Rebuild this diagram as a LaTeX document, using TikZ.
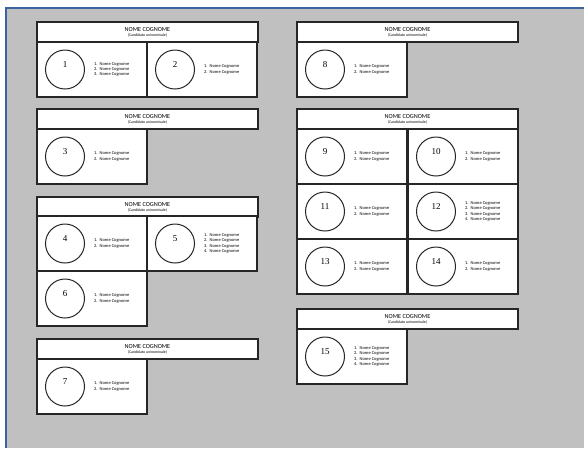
\documentclass[tikz,border=0pt]{standalone}
\usepackage{fontspec}
\setmainfont{Carlito}
\newfontfamily\numfont{Liberation Serif}
\definecolor{panel}{HTML}{C0C0C0}
\definecolor{frameblue}{HTML}{3A64A0}
\definecolor{boxline}{HTML}{262626}
\tikzset{
  cellline/.style={draw=boxline, line width=1.2pt, fill=white},
  circ/.style={draw=boxline, line width=1pt},
  numtxt/.style={font=\numfont\fontsize{9}{10}\selectfont, inner sep=0pt},
  listtxt/.style={font=\fontsize{4.5}{5.4}\selectfont, align=left, inner sep=0pt, anchor=west},
  headtxt/.style={font=\fontsize{6.2}{7}\selectfont, inner sep=0pt},
  subtxt/.style={font=\fontsize{3.9}{4.5}\selectfont, inner sep=0pt}
}
\newcommand\itm[1]{\makebox[5.5pt][l]{#1.}Nome Cognome}
\newcommand\lstTwo{\itm{1}\\\itm{2}}
\newcommand\lstThree{\itm{1}\\\itm{2}\\\itm{3}}
\newcommand\lstFour{\itm{1}\\\itm{2}\\\itm{3}\\\itm{4}}
% name, x, y, number, list
\newcommand\cellbox[5]{%
  \draw[cellline] (#2,#3) rectangle ++(110,55);
  \draw[circ] (#2+28,#3+27.5) circle (19.5);
  \node[numtxt] (n#1) at (#2+28,#3+23) {#4};
  \node[listtxt] (l#1) at (#2+57,#3+27.5) {#5};
}
% name, x, y
\newcommand\headbox[3]{%
  \draw[cellline] (#2,#3) rectangle ++(221,20);
  \node[headtxt] (h#1) at (#2+110.5,#3+7.5) {NOME COGNOME};
  \node[subtxt] (s#1) at (#2+110.5,#3+13.8) {(Candidato uninominale)};
}
\begin{document}
\begin{tikzpicture}[x=1pt,y=-1pt]
\useasboundingbox (0,0) rectangle (584,448);
\fill[white] (0,0) rectangle (584,448);
\fill[panel] (6,8) rectangle (584,448);
\draw[frameblue, line width=1.6pt] (6,448) -- (6,8) -- (584,8);
% left column
\headbox{A}{37}{22}
\cellbox{1}{37}{42}{1}{\lstThree}
\cellbox{2}{147}{42}{2}{\lstTwo}
\headbox{B}{37}{109}
\cellbox{3}{37}{129}{3}{\lstTwo}
\headbox{C}{37}{197}
\cellbox{4}{37}{216}{4}{\lstTwo}
\cellbox{5}{147}{216}{5}{\lstFour}
\cellbox{6}{37}{271}{6}{\lstTwo}
\headbox{D}{37}{339}
\cellbox{7}{37}{359}{7}{\lstTwo}
% right column
\headbox{E}{297}{22}
\cellbox{8}{297}{42}{8}{\lstTwo}
\headbox{F}{297}{109}
\cellbox{9}{297}{129}{9}{\lstTwo}
\cellbox{10}{408}{129}{10}{\lstTwo}
\cellbox{11}{297}{184}{11}{\lstTwo}
\cellbox{12}{408}{184}{12}{\lstFour}
\cellbox{13}{297}{239}{13}{\lstTwo}
\cellbox{14}{408}{239}{14}{\lstTwo}
\headbox{G}{297}{309}
\cellbox{15}{297}{329}{15}{\lstFour}
\end{tikzpicture}
\end{document}
